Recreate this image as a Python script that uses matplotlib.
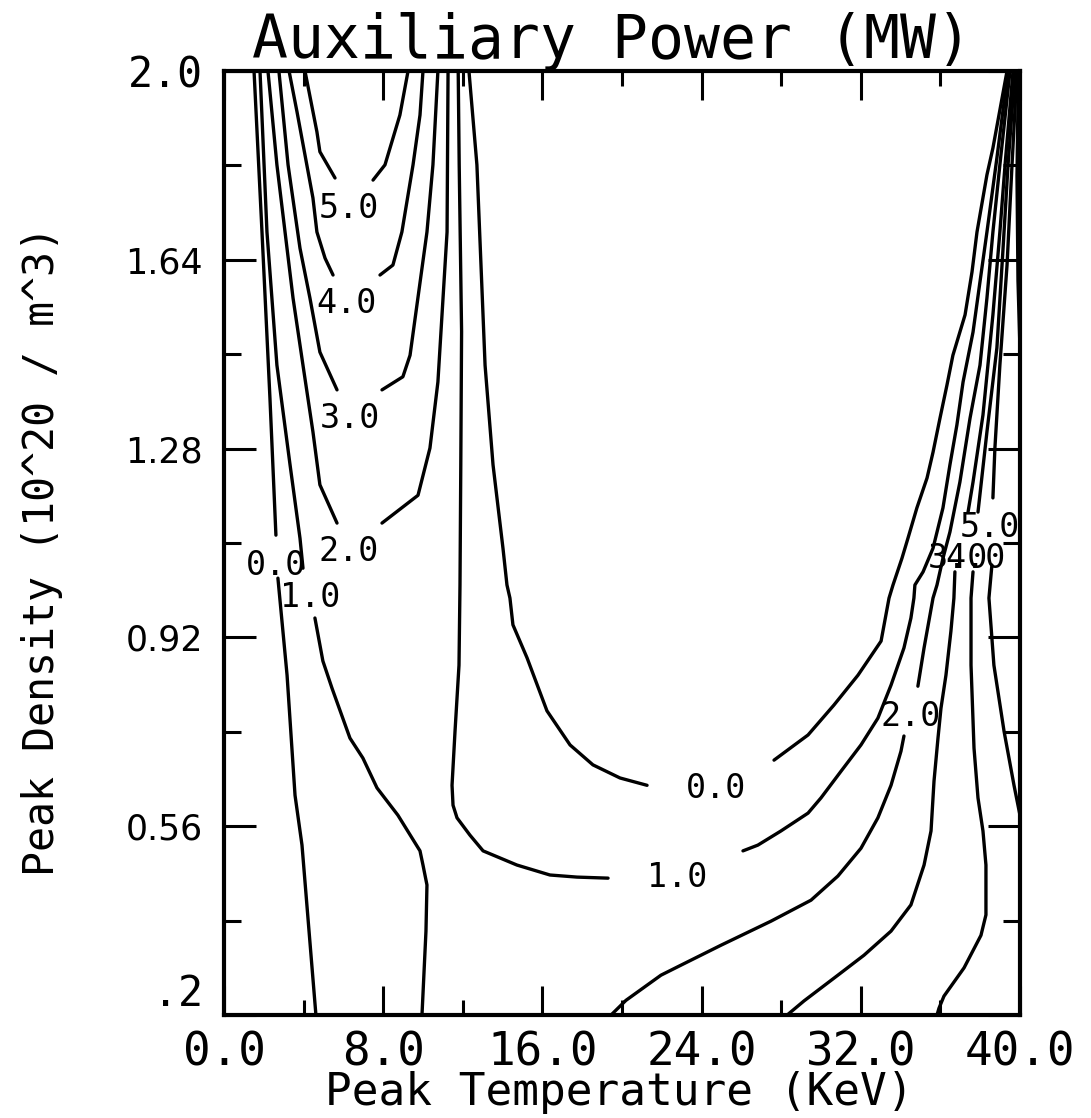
import matplotlib
matplotlib.use('Agg')
import matplotlib.pyplot as plt
from matplotlib import font_manager as fm

# ---------------- data (Peak Temperature T [keV], Peak Density n [1e20/m^3]) ----------------
# level 0.0 contour, left branch (broken by its label)
lvl0_left_up_T = [1.51, 1.91, 2.31, 2.61]
lvl0_left_up_n = [2.0, 1.693, 1.376, 1.115]
lvl0_left_lo_T = [2.71, 3.17, 3.57, 3.92, 4.22, 4.62]
lvl0_left_lo_n = [1.033, 0.848, 0.619, 0.524, 0.385, 0.2]
# level 1.0 contour, left branch
lvl1_left_up_T = [1.81, 2.16, 2.66, 3.32, 3.82, 3.97]
lvl1_left_up_n = [2.0, 1.693, 1.439, 1.249, 1.109, 1.052]
lvl1_left_lo_T = [4.57, 4.97, 5.43, 6.33, 6.98, 7.69, 8.74, 9.85, 10.0, 10.2, 10.15, 9.95]
lvl1_left_lo_n = [0.957, 0.875, 0.823, 0.728, 0.69, 0.633, 0.581, 0.513, 0.486, 0.448, 0.36, 0.2]
# U-shaped contours 2.0 .. 5.0 (left region)
lvl2_uL_T = [2.21, 2.66, 3.47, 3.97, 4.47, 4.82, 5.68]
lvl2_uL_n = [2.0, 1.821, 1.567, 1.439, 1.312, 1.211, 1.138]
lvl2_uR_T = [7.94, 9.75, 10.35, 10.75, 11.21, 11.26]
lvl2_uR_n = [1.138, 1.191, 1.281, 1.407, 1.693, 2.0]
lvl3_uL_T = [2.76, 3.22, 3.82, 4.32, 4.82, 5.68]
lvl3_uL_n = [2.0, 1.821, 1.662, 1.567, 1.464, 1.392]
lvl3_uR_T = [7.94, 8.99, 9.35, 10.2, 10.5, 10.75]
lvl3_uR_n = [1.392, 1.417, 1.458, 1.693, 1.821, 2.0]
lvl4_uL_T = [3.27, 3.67, 4.47, 4.67, 5.08, 5.48]
lvl4_uL_n = [2.0, 1.922, 1.758, 1.693, 1.643, 1.611]
lvl4_uR_T = [7.84, 8.49, 8.94, 9.5, 9.85, 10.0]
lvl4_uR_n = [1.611, 1.63, 1.693, 1.821, 1.916, 2.0]
lvl5_uL_T = [4.07, 4.67, 4.82, 5.58]
lvl5_uL_n = [2.0, 1.884, 1.846, 1.796]
lvl5_uR_T = [7.49, 8.09, 8.84, 9.25]
lvl5_uR_n = [1.792, 1.821, 1.916, 2.0]
# big U contours 0.0 and 1.0 (right region)
lvl0_bigL_T = [12.31, 12.71, 13.12, 13.52, 14.02, 14.22, 14.37, 14.52, 15.23, 16.23, 17.39, 18.54, 19.9, 21.26]
lvl0_bigL_n = [2.0, 1.821, 1.439, 1.249, 1.09, 1.02, 0.995, 0.944, 0.881, 0.78, 0.715, 0.677, 0.652, 0.638]
lvl0_bigR_T = [27.64, 29.35, 30.65, 31.86, 33.02, 33.42, 33.62, 34.07, 34.37, 34.82, 35.33, 35.63, 35.98,
               36.33, 36.63, 37.24, 37.59, 37.84, 38.34, 38.64, 39.35]
lvl0_bigR_n = [0.686, 0.734, 0.791, 0.848, 0.913, 0.995, 1.02, 1.071, 1.109, 1.167, 1.224, 1.273, 1.338,
               1.401, 1.458, 1.535, 1.617, 1.693, 1.802, 1.853, 2.0]
lvl1_bigL_T = [11.77, 11.82, 11.94, 11.9, 11.86, 11.81, 11.61, 11.46, 11.51, 11.71, 12.36, 13.02, 14.72,
               16.38, 17.74, 19.3]
lvl1_bigL_n = [2.0, 1.821, 1.503, 1.249, 1.02, 0.867, 0.741, 0.638, 0.6, 0.576, 0.543, 0.513, 0.486,
               0.467, 0.463, 0.461]
lvl1_bigR_T = [26.08, 26.83, 27.99, 29.35, 30.0, 31.01, 32.01, 32.86, 33.52, 34.17, 34.52, 34.67, 34.72,
               35.13, 35.63, 36.13, 36.48, 36.83, 37.14, 37.64, 37.99, 38.34, 38.84, 39.4]
lvl1_bigR_n = [0.513, 0.524, 0.551, 0.585, 0.614, 0.665, 0.715, 0.766, 0.829, 0.9, 0.957, 0.995, 1.02,
               1.045, 1.09, 1.167, 1.249, 1.325, 1.407, 1.502, 1.598, 1.693, 1.834, 2.0]
# right-hand contours 2.0 .. 6.0
lvl2_rLo_T = [19.45, 20.2, 21.96, 22.96, 24.97, 27.49, 29.5, 30.85, 32.01, 32.86, 33.52, 34.02, 34.17]
lvl2_rLo_n = [0.2, 0.228, 0.276, 0.295, 0.333, 0.379, 0.419, 0.465, 0.518, 0.576, 0.638, 0.703, 0.732]
lvl2_rUp_T = [34.87, 35.18, 35.63, 35.83, 36.13, 36.48, 36.98, 37.49, 37.99, 38.34, 38.64, 38.99, 39.5]
lvl2_rUp_n = [0.827, 0.9, 0.995, 1.02, 1.071, 1.121, 1.216, 1.338, 1.439, 1.567, 1.693, 1.821, 2.0]
lvl3_rLo_T = [36.73, 36.68, 36.53, 36.28, 36.03, 35.88, 35.68, 35.53, 35.18, 34.52, 33.52, 32.16, 30.85,
              29.15, 28.3]
lvl3_rLo_n = [1.045, 0.995, 0.932, 0.848, 0.785, 0.728, 0.646, 0.551, 0.486, 0.41, 0.36, 0.314, 0.276,
              0.227, 0.2]
lvl3_rUp_T = [37.39, 37.64, 38.14, 38.64, 38.99, 39.25, 39.65]
lvl3_rUp_n = [1.159, 1.216, 1.344, 1.535, 1.693, 1.821, 2.0]
lvl4_rLo_T = [37.64, 37.54, 37.54, 37.69, 37.89, 38.14, 38.29, 38.29, 38.04, 37.19, 36.18, 35.93, 35.83]
lvl4_rLo_n = [1.045, 0.995, 0.867, 0.709, 0.614, 0.551, 0.486, 0.391, 0.352, 0.29, 0.236, 0.213, 0.2]
lvl4_rUp_T = [37.89, 38.34, 38.84, 39.15, 39.4, 39.75]
lvl4_rUp_n = [1.159, 1.312, 1.472, 1.662, 1.821, 2.0]
lvl5_rLo_T = [38.59, 38.44, 38.69, 39.2, 39.7, 40.0]
lvl5_rLo_n = [1.058, 0.995, 0.867, 0.741, 0.638, 0.581]
lvl5_rUp_T = [38.64, 38.74, 38.99, 39.35, 39.6, 39.85]
lvl5_rUp_n = [1.186, 1.281, 1.439, 1.63, 1.821, 2.0]
lvl6_r_T = [39.92, 39.85, 39.9, 40.0]
lvl6_r_n = [2.0, 1.8, 1.6, 1.47]

# contour labels
label_text = ['5.0', '4.0', '3.0', '2.0', '0.0', '1.0', '0.0', '1.0', '2.0', '5.0', '3.0', '4.0']
label_T = [6.26, 6.16, 6.31, 6.28, 2.64, 4.32, 24.72, 22.76, 34.52, 38.47, 36.88, 37.79]
label_n = [1.744, 1.563, 1.344, 1.09, 1.064, 1.003, 0.638, 0.469, 0.776, 1.136, 1.077, 1.077]

# axes ticks
x_major = [0, 8, 16, 24, 32, 40]
x_labels = ['0.0', '8.0', '16.0', '24.0', '32.0', '40.0']
x_minor = [4, 12, 20, 28, 36]
y_major = [0.2, 0.56, 0.92, 1.28, 1.64, 2.0]
y_labels = ['.2', '0.56', '0.92', '1.28', '1.64', '2.0']
y_minor = [0.38, 0.74, 1.10, 1.46, 1.82]

segments = [
    (lvl0_left_up_T, lvl0_left_up_n), (lvl0_left_lo_T, lvl0_left_lo_n),
    (lvl1_left_up_T, lvl1_left_up_n), (lvl1_left_lo_T, lvl1_left_lo_n),
    (lvl2_uL_T, lvl2_uL_n), (lvl2_uR_T, lvl2_uR_n),
    (lvl3_uL_T, lvl3_uL_n), (lvl3_uR_T, lvl3_uR_n),
    (lvl4_uL_T, lvl4_uL_n), (lvl4_uR_T, lvl4_uR_n),
    (lvl5_uL_T, lvl5_uL_n), (lvl5_uR_T, lvl5_uR_n),
    (lvl0_bigL_T, lvl0_bigL_n), (lvl0_bigR_T, lvl0_bigR_n),
    (lvl1_bigL_T, lvl1_bigL_n), (lvl1_bigR_T, lvl1_bigR_n),
    (lvl2_rLo_T, lvl2_rLo_n), (lvl2_rUp_T, lvl2_rUp_n),
    (lvl3_rLo_T, lvl3_rLo_n), (lvl3_rUp_T, lvl3_rUp_n),
    (lvl4_rLo_T, lvl4_rLo_n), (lvl4_rUp_T, lvl4_rUp_n),
    (lvl5_rLo_T, lvl5_rLo_n), (lvl5_rUp_T, lvl5_rUp_n),
    (lvl6_r_T, lvl6_r_n),
]


def available(family):
    try:
        fm.findfont(fm.FontProperties(family=family), fallback_to_default=False)
        return True
    except Exception:
        return False


MONO = 'DejaVu Sans Mono'
if available('Liberation Sans Narrow'):
    NARROW, NARROW_SIZE = 'Liberation Sans Narrow', 30
else:
    NARROW, NARROW_SIZE = 'DejaVu Sans', 25

fig = plt.figure(figsize=(10.91, 11.18), dpi=100)
ax = fig.add_axes([0.2053, 0.0921, 0.7296, 0.8444])

for T, n in segments:
    ax.plot(T, n, color='black', lw=2.4, solid_joinstyle='round', solid_capstyle='round')

for txt, T, n in zip(label_text, label_T, label_n):
    ax.text(T, n, txt, ha='center', va='center_baseline', family=MONO, fontsize=24, color='black')

ax.set_xlim(0, 40)
ax.set_ylim(0.2, 2.0)

ax.set_xticks(x_major, x_labels)
ax.set_xticks(x_minor, minor=True)
ax.set_yticks(y_major, y_labels)
ax.set_yticks(y_minor, minor=True)

ax.tick_params(which='both', direction='in', top=True, right=True, width=2.2, color='black')
ax.tick_params(axis='x', which='major', length=21, pad=11, labelsize=33)
ax.tick_params(axis='x', which='minor', length=10.5)
ax.tick_params(axis='y', which='major', length=23, pad=15)
ax.tick_params(axis='y', which='minor', length=12)

for lab in ax.get_xticklabels():
    lab.set_family(MONO)
for lab in ax.get_yticklabels():
    if lab.get_text() in ('2.0', '.2'):
        lab.set_family(MONO)
        lab.set_fontsize(30)
        if lab.get_text() == '.2':
            lab.set_verticalalignment('bottom')
    else:
        lab.set_family(NARROW)
        lab.set_fontsize(NARROW_SIZE)

for s in ax.spines.values():
    s.set_linewidth(3)
    s.set_color('black')

ax.set_title('Auxiliary Power (MW)', family=MONO, fontsize=43, pad=8, x=0.487)

ax.set_xlabel('Peak Temperature (KeV)', family=MONO, fontsize=32)
ax.xaxis.set_label_coords(0.496, -0.0953)
ax.xaxis.label.set_verticalalignment('baseline')

ax.set_ylabel('Peak Density (10^20 / m^3)', family=MONO, fontsize=30)
ax.yaxis.set_label_coords(-0.2136, 0.4915)
ax.yaxis.label.set_verticalalignment('baseline')

fig.savefig('out.png', dpi=100, facecolor='white')
